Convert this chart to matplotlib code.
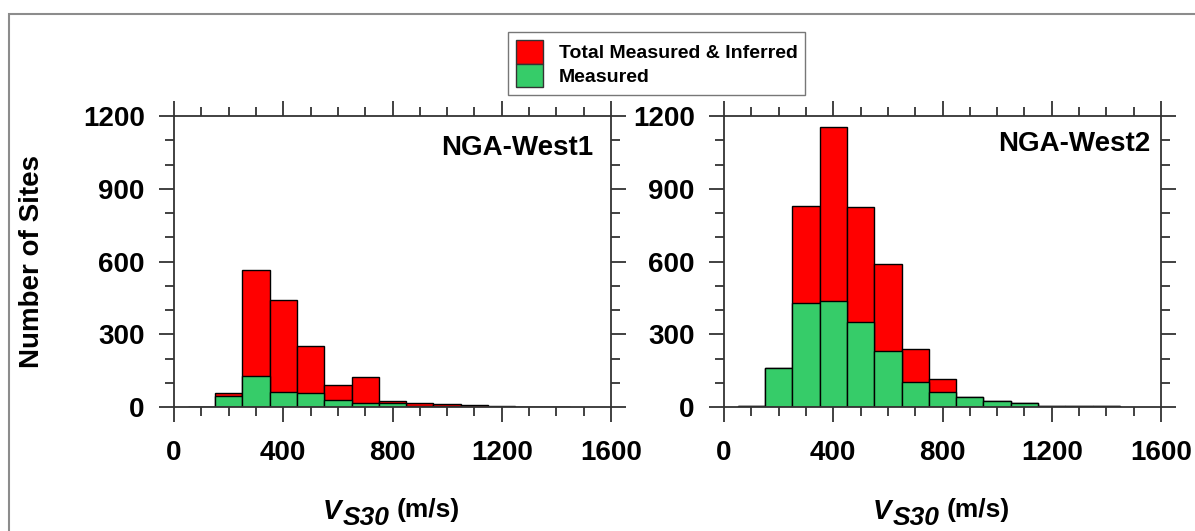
import numpy as np
import matplotlib
matplotlib.use("Agg")
import matplotlib.pyplot as plt
from matplotlib.patches import Rectangle, Patch
from matplotlib.ticker import MultipleLocator

plt.rcParams['font.family'] = ['Liberation Sans', 'DejaVu Sans']
plt.rcParams['font.weight'] = 'bold'

# VS30 bin centres (m/s), bin width 100
bin_centers = [100, 200, 300, 400, 500, 600, 700, 800, 900, 1000, 1100, 1200, 1300, 1400]

# NGA-West1 counts
w1_total = [2, 56, 566, 442, 253, 91, 124, 26, 16, 14, 8, 3, 2, 2]
w1_measured = [1, 47, 129, 62, 56, 27, 16, 15, 5, 3, 2, 1, 1, 1]

# NGA-West2 counts
w2_total = [3, 161, 827, 1154, 826, 591, 238, 117, 41, 26, 16, 5, 6, 3]
w2_measured = [3, 161, 428, 438, 349, 231, 104, 60, 41, 26, 16, 5, 6, 3]

panel_titles = ["NGA-West1", "NGA-West2"]
red = "#ff0000"
green = "#36cc69"

W, H = 1195, 531
fig = plt.figure(figsize=(W / 100, H / 100), dpi=100)


def px(x, y):
    # pixel position (from top-left) -> figure fraction
    return x / W, 1 - y / H


# outer frame
fig.patches.append(Rectangle((9 / W, -0.1), 1.2, 0.1 + 1 - 14 / H,
                             transform=fig.transFigure, fill=False,
                             edgecolor="#8c8c8c", linewidth=1.5))

ax1 = fig.add_axes([174 / W, 1 - 407 / H, 437 / W, 291 / H])
ax2 = fig.add_axes([724 / W, 1 - 407 / H, 437 / W, 291 / H])

panels = [(ax1, w1_total, w1_measured, (0.96, 0.89), 393),
          (ax2, w2_total, w2_measured, (0.975, 0.905), 943)]

for i, (ax, total, measured, tpos, cx) in enumerate(panels):
    ax.bar(bin_centers, total, width=100, color=red, edgecolor="black", linewidth=1.0)
    ax.bar(bin_centers, measured, width=100, color=green, edgecolor="black", linewidth=1.0)
    ax.set_xlim(0, 1600)
    ax.set_ylim(0, 1200)
    ax.xaxis.set_major_locator(MultipleLocator(400))
    ax.xaxis.set_minor_locator(MultipleLocator(100))
    ax.yaxis.set_major_locator(MultipleLocator(300))
    ax.yaxis.set_minor_locator(MultipleLocator(100))
    ax.tick_params(which="both", direction="out", top=True, right=True,
                   width=1.3, color="#333333", labelsize=20)
    ax.tick_params(which="major", length=11)
    ax.tick_params(which="minor", length=6.5)
    ax.tick_params(axis="x", pad=13)
    ax.tick_params(axis="y", pad=10)
    for s in ax.spines.values():
        s.set_linewidth(1.3)
        s.set_color("#333333")
    ax.text(tpos[0], tpos[1], panel_titles[i], transform=ax.transAxes,
            ha="right", va="center", fontsize=20, fontweight="bold")

    # x label: V_S30 (m/s)
    fig.text(*px(cx - 70, 519), "V", fontsize=20, style="italic",
             fontweight="bold", ha="left", va="baseline")
    fig.text(*px(cx - 50, 525), "S30", fontsize=19, style="italic",
             fontweight="bold", ha="left", va="baseline")
    fig.text(*px(cx + 4, 517), "(m/s)", fontsize=19, fontweight="bold",
             ha="left", va="baseline")

ax1.set_ylabel("Number of Sites", fontsize=20, fontweight="bold", labelpad=27)

handles = [Patch(facecolor=red, edgecolor="#333333"),
           Patch(facecolor=green, edgecolor="#333333")]
fig.legend(handles, ["Total Measured & Inferred", "Measured"],
           loc="upper left", bbox_to_anchor=px(508, 32),
           fontsize=14, frameon=True, fancybox=False, edgecolor="#555555",
           handlelength=1.4, handleheight=1.5, labelspacing=0.0,
           handletextpad=0.8, borderpad=0.4, borderaxespad=0.0)

fig.savefig("out.png", dpi=100)
